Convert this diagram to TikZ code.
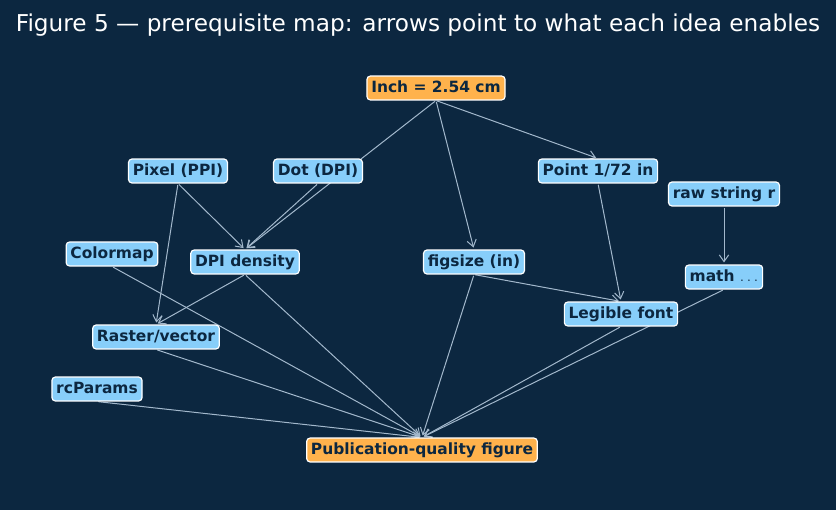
\documentclass[tikz,border=0pt]{standalone}
\usepackage{fontspec}
\setmainfont{DejaVu Sans}
\usetikzlibrary{arrows.meta}

\definecolor{bgnavy}{HTML}{0C2740}
\definecolor{ideablue}{HTML}{87CEFA}
\definecolor{goalorange}{HTML}{FFB24C}
\definecolor{inkdark}{HTML}{0C2740}
\definecolor{linkgray}{HTML}{A3B8CC}

\pgfdeclarelayer{bg}
\pgfdeclarelayer{links}
\pgfsetlayers{bg,links,main}

\begin{document}
\begin{tikzpicture}[x=0.75pt, y=-0.75pt,
    idea/.style={draw=white, line width=0.9pt, fill=ideablue, rounded corners=2.5pt,
      text=inkdark, font=\bfseries\fontsize{11.6}{13}\selectfont,
      inner xsep=3.2pt, inner ysep=3.4pt, text height=8.6pt, text depth=2.5pt},
    goal/.style={idea, fill=goalorange},
    link/.style={draw=linkgray, line width=0.75pt,
      -{Straight Barb[length=5pt, width=7pt]}, shorten <=1pt, shorten >=1.5pt}]
  \begin{pgfonlayer}{bg}
    \fill[bgnavy] (0,0) rectangle (836,510);
  \end{pgfonlayer}

  \node[text=white, font=\fontsize{17.4}{20}\selectfont] (title) at (418,25)
    {Figure 5 --- prerequisite map: arrows point to what each idea enables};

  \node[goal] (inch) at (436,88) {Inch = 2.54 cm};
  \node[idea] (pixel) at (178,171) {Pixel (PPI)};
  \node[idea] (dot) at (318,171) {Dot (DPI)};
  \node[idea] (point) at (598,171) {Point 1/72 in};
  \node[idea] (rawstr) at (724,194) {raw string r};
  \node[idea] (cmap) at (112,254) {Colormap};
  \node[idea] (dpi) at (245,262) {DPI density};
  \node[idea] (figsize) at (474,262) {figsize (in)};
  \node[idea] (math) at (724,277) {math $\ldots$};
  \node[idea] (legible) at (621,314) {Legible font};
  \node[idea] (raster) at (156,337) {Raster/vector};
  \node[idea] (rcp) at (97,389) {rcParams};
  \node[goal] (pub) at (422,450) {Publication-quality figure};

  \begin{pgfonlayer}{links}
    \draw[link] (inch.south) -- (dpi.north);
    \draw[link] (inch.south) -- (point.north);
    \draw[link] (inch.south) -- (figsize.north);
    \draw[link] (pixel.south) -- (dpi.north);
    \draw[link] (pixel.south) -- (raster.north);
    \draw[link] (dot.south) -- (dpi.north);
    \draw[link] (dpi.south) -- (raster.north);
    \draw[link] (point.south) -- (legible.north);
    \draw[link] (figsize.south) -- (legible.north);
    \draw[link] (rawstr.south) -- (math.north);
    \foreach \src in {cmap, dpi, raster, rcp, figsize, legible, math}
      \draw[link] (\src.south) -- (pub.north);
  \end{pgfonlayer}
\end{tikzpicture}
\end{document}
